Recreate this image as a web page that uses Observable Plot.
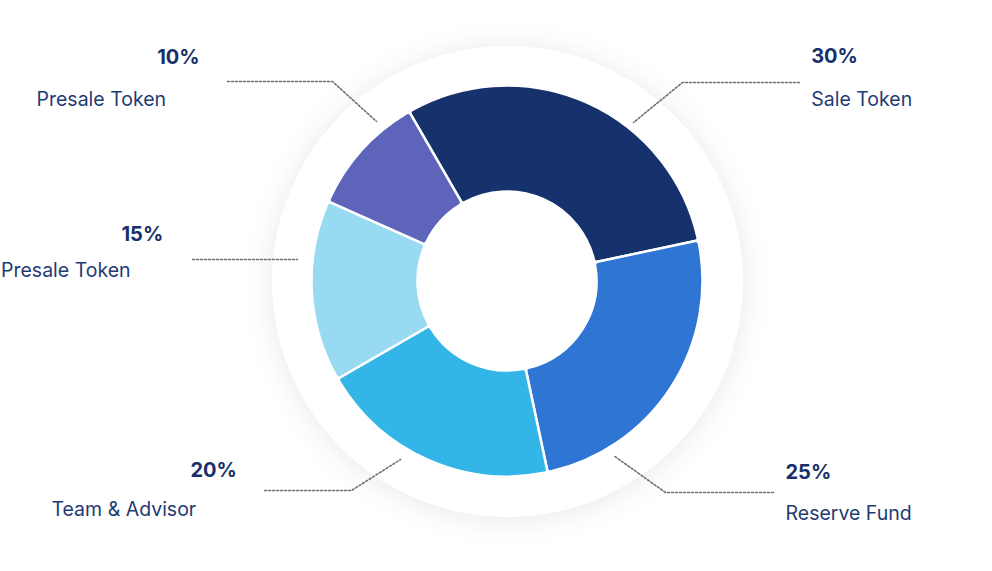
<!DOCTYPE html>
<html><head><meta charset="utf-8">
<script src="https://cdn.jsdelivr.net/npm/d3@7"></script>
<script src="https://cdn.jsdelivr.net/npm/@observablehq/plot@0.6"></script>
<style>html,body{margin:0;padding:0;background:#fff;overflow:hidden}</style>
</head><body><div id="chart"></div>
<script>
// ---- data ----
const categories = ["Sale Token", "Reserve Fund", "Team & Advisor", "Presale Token", "Presale Token"];
const shares = [30, 25, 20, 15, 10];
const keys = ["sale", "reserve", "team", "presale15", "presale10"];
const sliceColors = ["#15326c", "#2f75d3", "#33b5e8", "#99daf3", "#5d64ba"];

// ---- layout (pixels) ----
const center = {x: 507, y: 281};
const radii = {inner: 89.5, outer: 195.5, halo: 235.5};
const labelPos = [
  {px: 810.7, py: 56.5, nx: 810.7, ny: 98.8},
  {px: 785, py: 472, nx: 785, ny: 512.8},
  {px: 190, py: 470.5, nx: 51, ny: 508.8},
  {px: 121, py: 233.8, nx: 0.5, ny: 270.5},
  {px: 156.7, py: 57, nx: 36, ny: 98.8}
];
const leaderPaths = [
  [[799, 82], [682, 82], [633, 122]],
  [[773, 492], [665, 492], [613, 455]],
  [[264, 490], [351, 490], [400, 459]],
  [[192, 259], [297, 259]],
  [[227, 81], [332, 81], [376, 121]]
];

const slices = categories.map((c, i) => ({key: keys[i], name: c, share: shares[i], pct: shares[i] + "%", ...labelPos[i]}));
const leaders = leaderPaths.flatMap((p, i) => p.map(([x, y]) => ({id: i, x, y})));

function donutRender(index, scales, values) {
  const cx = values.x[index[0]], cy = values.y[index[0]];
  const k = scales.x(1) - scales.x(0);
  const arcs = d3.pie().sort(null).value(i => shares[i])
    .startAngle(-Math.PI / 6).endAngle(2 * Math.PI - Math.PI / 6)(Array.from(index));
  const arc = d3.arc().innerRadius(radii.inner * k).outerRadius(radii.outer * k).cornerRadius(3);
  const g = d3.create("svg:g");
  g.selectAll("path").data(arcs).join("path")
    .attr("transform", `translate(${cx},${cy})`)
    .attr("d", arc)
    .attr("fill", a => values.fill[a.data])
    .attr("stroke", "white").attr("stroke-width", 2.5).attr("stroke-linejoin", "round");
  return g.node();
}

const chart = Plot.plot({
  width: 992, height: 571,
  margin: 0,
  style: {fontFamily: "Inter, 'Noto Sans', sans-serif", background: "white", overflow: "visible"},
  x: {domain: [0, 992], range: [0, 992], axis: null},
  y: {domain: [0, 571], range: [0, 571], axis: null},
  color: {domain: keys, range: sliceColors},
  marks: [
    Plot.dot([center], {x: "x", y: "y", r: radii.halo, fill: "white",
      render: (i, s, v, d, c, next) => { const g = next(i, s, v, d, c); g.style.filter = "drop-shadow(0px 2px 14px rgba(0,0,0,0.09))"; return g; }}),
    Plot.dot(slices, {x: () => center.x, y: () => center.y, fill: "key", render: donutRender}),
    Plot.line(leaders, {x: "x", y: "y", z: "id", stroke: "#6f6f7a", strokeWidth: 1.6, strokeDasharray: "2,2", curve: "linear"}),
    Plot.text(slices, {x: "px", y: "py", text: "pct", textAnchor: "start", fontSize: 20, fontWeight: 700, fill: "#17306b"}),
    Plot.text(slices, {x: "nx", y: "ny", text: "name", textAnchor: "start", fontSize: 19.5, fontWeight: 400, fill: "#1f3b73"})
  ]
});
document.getElementById("chart").appendChild(chart);
</script>
</body></html>
